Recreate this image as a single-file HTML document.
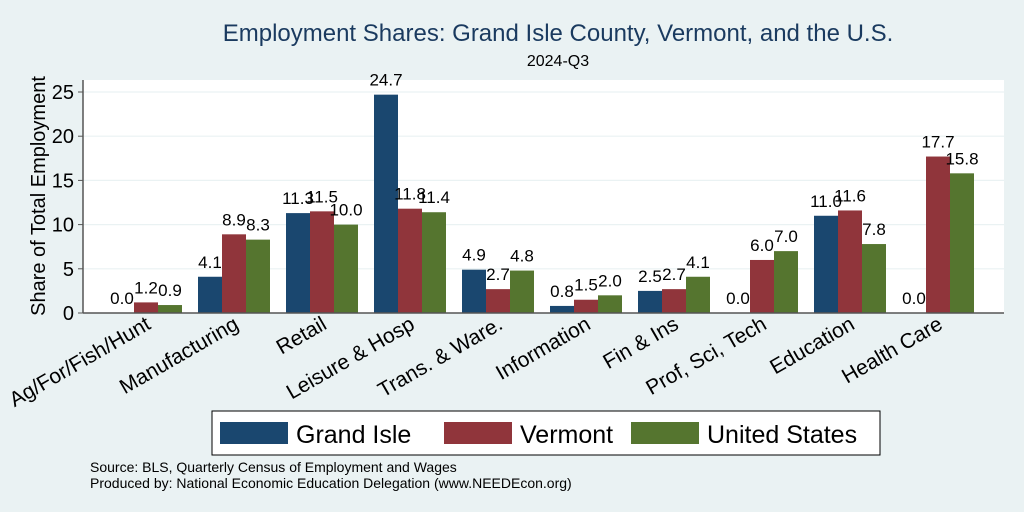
<!DOCTYPE html>
<html><head><meta charset="utf-8"><style>
body{margin:0;background:#eaf2f3;}
svg{display:block;font-family:"Liberation Sans",sans-serif;}
</style></head><body>
<svg id="c" width="1024" height="512">
<rect x="0" y="0" width="1024" height="512" fill="#eaf2f3"/>
<rect x="83" y="80" width="921" height="233" fill="#ffffff"/>
<text x="558" y="41" text-anchor="middle" font-size="24" fill="#1a3a5f">Employment Shares: Grand Isle County, Vermont, and the U.S.</text>
<text x="558" y="66" text-anchor="middle" font-size="16" fill="#000">2024-Q3</text>
<text transform="translate(45,196) rotate(-90)" text-anchor="middle" font-size="20" fill="#000">Share of Total Employment</text>
<g id="grid"></g><g id="bars"></g><g id="labels"></g>
<line x1="83" y1="80" x2="83" y2="313" stroke="#555" stroke-width="1.5"/>
<line x1="83" y1="313" x2="1004" y2="313" stroke="#555" stroke-width="1.5"/>
<g>
<rect x="212" y="411" width="668" height="44" fill="#fff" stroke="#000" stroke-width="1"/>
<rect x="220" y="422" width="68" height="22" fill="#1a476f"/>
<text x="296" y="443" font-size="25">Grand Isle</text>
<rect x="444" y="422" width="68" height="22" fill="#90353b"/>
<text x="520" y="443" font-size="25">Vermont</text>
<rect x="631" y="422" width="68" height="22" fill="#55752f"/>
<text x="707" y="443" font-size="25">United States</text>
</g>
<text x="90" y="472" font-size="14">Source: BLS, Quarterly Census of Employment and Wages</text>
<text x="90" y="488" font-size="14">Produced by: National Economic Education Delegation (www.NEEDEcon.org)</text>
</svg>
<script>
const categories=["Ag/For/Fish/Hunt","Manufacturing","Retail","Leisure & Hosp","Trans. & Ware.","Information","Fin & Ins","Prof, Sci, Tech","Education","Health Care"];
const grandIsle=[0.0,4.1,11.3,24.7,4.9,0.8,2.5,0.0,11.0,0.0];
const vermont=[1.2,8.9,11.5,11.8,2.7,1.5,2.7,6.0,11.6,17.7];
const unitedStates=[0.9,8.3,10.0,11.4,4.8,2.0,4.1,7.0,7.8,15.8];
const yTicks=[0,5,10,15,20,25];
const NS="http://www.w3.org/2000/svg";
const y=v=>313-v*8.84;
const xc=i=>146+i*88.0;
function mk(t,a,p){const e=document.createElementNS(NS,t);for(const k in a)e.setAttribute(k,a[k]);p.appendChild(e);return e;}
const grid=document.getElementById('grid'),bars=document.getElementById('bars'),labels=document.getElementById('labels');
yTicks.forEach(t=>{
 if(t>0){const g=mk('line',{x1:83,x2:1004,y1:y(t),y2:y(t),stroke:'#eaf2f3','stroke-width':1.2},grid);
 
 }
 const tk=mk('line',{x1:78,x2:83,y1:y(t),y2:y(t),stroke:'#555'},grid);
 
 
 const tx=mk('text',{x:74,y:y(t)+7,'text-anchor':'end','font-size':20},grid);tx.textContent=t;
 
 
});
const series=[[grandIsle,'#1a476f','grand-isle'],[vermont,'#90353b','vermont'],[unitedStates,'#55752f','us']];
categories.forEach((c,i)=>{
 series.forEach(([d,col,nm],j)=>{
  const cx=xc(i)+(j-1)*24;
  const r=mk('rect',{x:cx-12,y:y(d[i]),width:24,height:d[i]*8.84,fill:col},bars);
  
  
  const t=mk('text',{x:cx,y:y(d[i])-9,'text-anchor':'middle','font-size':17},labels);t.textContent=d[i].toFixed(1);
  
  
 });
 const l=mk('text',{transform:`translate(${xc(i)+6},${328}) rotate(-30)`,'text-anchor':'end','font-size':21},labels);l.textContent=c;
 
 
});
</script>
</body></html>
